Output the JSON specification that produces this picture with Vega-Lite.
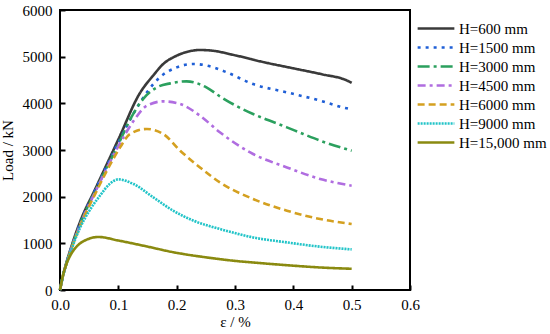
{
  "$schema": "https://vega.github.io/schema/vega-lite/v6.json",
  "autosize": {"type": "none"},
  "padding": {"left": 60, "top": 10, "right": 140, "bottom": 44},
  "width": 350,
  "height": 280,
  "config": {
    "font": "Liberation Serif",
    "view": {"stroke": "#000000", "strokeWidth": 2},
    "axis": {"labelFont": "Liberation Serif", "titleFont": "Liberation Serif", "labelFontSize": 15, "titleFontSize": 15, "titleFontWeight": "normal", "labelColor": "#000", "titleColor": "#000", "domain": false, "grid": false, "tickColor": "#000", "tickWidth": 2, "tickSize": 5, "offset": -5, "labelFlush": false}
  },
  "datasets": {
    "curves": [
      {"H": "H=600 mm", "e": 0, "load": 0}, {"H": "H=600 mm", "e": 0.005, "load": 300}, {"H": "H=600 mm", "e": 0.01, "load": 540}, {"H": "H=600 mm", "e": 0.02, "load": 950}, {"H": "H=600 mm", "e": 0.035, "load": 1480}, {"H": "H=600 mm", "e": 0.06, "load": 2152}, {"H": "H=600 mm", "e": 0.1, "load": 3226}, {"H": "H=600 mm", "e": 0.137, "load": 4220}, {"H": "H=600 mm", "e": 0.16, "load": 4600}, {"H": "H=600 mm", "e": 0.177, "load": 4843}, {"H": "H=600 mm", "e": 0.2, "load": 5021}, {"H": "H=600 mm", "e": 0.22, "load": 5110}, {"H": "H=600 mm", "e": 0.24, "load": 5143}, {"H": "H=600 mm", "e": 0.26, "load": 5130}, {"H": "H=600 mm", "e": 0.3, "load": 5030}, {"H": "H=600 mm", "e": 0.35, "load": 4880}, {"H": "H=600 mm", "e": 0.4, "load": 4750}, {"H": "H=600 mm", "e": 0.45, "load": 4620}, {"H": "H=600 mm", "e": 0.49, "load": 4500}, {"H": "H=600 mm", "e": 0.5, "load": 4440},
      {"H": "H=1500 mm", "e": 0, "load": 0}, {"H": "H=1500 mm", "e": 0.005, "load": 300}, {"H": "H=1500 mm", "e": 0.01, "load": 535}, {"H": "H=1500 mm", "e": 0.02, "load": 930}, {"H": "H=1500 mm", "e": 0.035, "load": 1450}, {"H": "H=1500 mm", "e": 0.06, "load": 2130}, {"H": "H=1500 mm", "e": 0.1, "load": 3160}, {"H": "H=1500 mm", "e": 0.126, "load": 3780}, {"H": "H=1500 mm", "e": 0.149, "load": 4235}, {"H": "H=1500 mm", "e": 0.171, "load": 4556}, {"H": "H=1500 mm", "e": 0.2, "load": 4770}, {"H": "H=1500 mm", "e": 0.229, "load": 4843}, {"H": "H=1500 mm", "e": 0.263, "load": 4770}, {"H": "H=1500 mm", "e": 0.286, "load": 4663}, {"H": "H=1500 mm", "e": 0.331, "load": 4414}, {"H": "H=1500 mm", "e": 0.389, "load": 4235}, {"H": "H=1500 mm", "e": 0.446, "load": 4057}, {"H": "H=1500 mm", "e": 0.489, "load": 3900}, {"H": "H=1500 mm", "e": 0.5, "load": 3870},
      {"H": "H=3000 mm", "e": 0, "load": 0}, {"H": "H=3000 mm", "e": 0.005, "load": 300}, {"H": "H=3000 mm", "e": 0.01, "load": 530}, {"H": "H=3000 mm", "e": 0.02, "load": 920}, {"H": "H=3000 mm", "e": 0.035, "load": 1430}, {"H": "H=3000 mm", "e": 0.06, "load": 2110}, {"H": "H=3000 mm", "e": 0.1, "load": 3120}, {"H": "H=3000 mm", "e": 0.12, "load": 3650}, {"H": "H=3000 mm", "e": 0.143, "load": 4100}, {"H": "H=3000 mm", "e": 0.166, "load": 4342}, {"H": "H=3000 mm", "e": 0.189, "load": 4428}, {"H": "H=3000 mm", "e": 0.217, "load": 4471}, {"H": "H=3000 mm", "e": 0.251, "load": 4342}, {"H": "H=3000 mm", "e": 0.274, "load": 4150}, {"H": "H=3000 mm", "e": 0.3, "load": 3960}, {"H": "H=3000 mm", "e": 0.331, "load": 3772}, {"H": "H=3000 mm", "e": 0.389, "load": 3485}, {"H": "H=3000 mm", "e": 0.417, "load": 3343}, {"H": "H=3000 mm", "e": 0.446, "load": 3200}, {"H": "H=3000 mm", "e": 0.5, "load": 2985},
      {"H": "H=4500 mm", "e": 0, "load": 0}, {"H": "H=4500 mm", "e": 0.005, "load": 300}, {"H": "H=4500 mm", "e": 0.01, "load": 525}, {"H": "H=4500 mm", "e": 0.02, "load": 910}, {"H": "H=4500 mm", "e": 0.035, "load": 1410}, {"H": "H=4500 mm", "e": 0.06, "load": 2090}, {"H": "H=4500 mm", "e": 0.1, "load": 3080}, {"H": "H=4500 mm", "e": 0.126, "load": 3620}, {"H": "H=4500 mm", "e": 0.149, "load": 3950}, {"H": "H=4500 mm", "e": 0.177, "load": 4042}, {"H": "H=4500 mm", "e": 0.206, "load": 3986}, {"H": "H=4500 mm", "e": 0.24, "load": 3735}, {"H": "H=4500 mm", "e": 0.274, "load": 3380}, {"H": "H=4500 mm", "e": 0.331, "load": 2914}, {"H": "H=4500 mm", "e": 0.389, "load": 2627}, {"H": "H=4500 mm", "e": 0.446, "load": 2379}, {"H": "H=4500 mm", "e": 0.5, "load": 2235},
      {"H": "H=6000 mm", "e": 0, "load": 0}, {"H": "H=6000 mm", "e": 0.005, "load": 300}, {"H": "H=6000 mm", "e": 0.01, "load": 520}, {"H": "H=6000 mm", "e": 0.02, "load": 900}, {"H": "H=6000 mm", "e": 0.035, "load": 1390}, {"H": "H=6000 mm", "e": 0.06, "load": 2050}, {"H": "H=6000 mm", "e": 0.09, "load": 2780}, {"H": "H=6000 mm", "e": 0.103, "load": 3056}, {"H": "H=6000 mm", "e": 0.12, "load": 3343}, {"H": "H=6000 mm", "e": 0.149, "load": 3450}, {"H": "H=6000 mm", "e": 0.177, "load": 3343}, {"H": "H=6000 mm", "e": 0.206, "load": 2985}, {"H": "H=6000 mm", "e": 0.24, "load": 2627}, {"H": "H=6000 mm", "e": 0.274, "load": 2306}, {"H": "H=6000 mm", "e": 0.331, "load": 1950}, {"H": "H=6000 mm", "e": 0.389, "load": 1700}, {"H": "H=6000 mm", "e": 0.446, "load": 1521}, {"H": "H=6000 mm", "e": 0.5, "load": 1414},
      {"H": "H=9000 mm", "e": 0, "load": 0}, {"H": "H=9000 mm", "e": 0.005, "load": 300}, {"H": "H=9000 mm", "e": 0.01, "load": 515}, {"H": "H=9000 mm", "e": 0.02, "load": 880}, {"H": "H=9000 mm", "e": 0.035, "load": 1350}, {"H": "H=9000 mm", "e": 0.05, "load": 1690}, {"H": "H=9000 mm", "e": 0.069, "load": 2030}, {"H": "H=9000 mm", "e": 0.085, "load": 2270}, {"H": "H=9000 mm", "e": 0.1, "load": 2370}, {"H": "H=9000 mm", "e": 0.126, "load": 2271}, {"H": "H=9000 mm", "e": 0.16, "load": 1985}, {"H": "H=9000 mm", "e": 0.194, "load": 1700}, {"H": "H=9000 mm", "e": 0.229, "load": 1485}, {"H": "H=9000 mm", "e": 0.274, "load": 1307}, {"H": "H=9000 mm", "e": 0.331, "load": 1127}, {"H": "H=9000 mm", "e": 0.389, "load": 1020}, {"H": "H=9000 mm", "e": 0.446, "load": 928}, {"H": "H=9000 mm", "e": 0.5, "load": 870},
      {"H": "H=15,000 mm", "e": 0, "load": 0}, {"H": "H=15,000 mm", "e": 0.005, "load": 310}, {"H": "H=15,000 mm", "e": 0.01, "load": 520}, {"H": "H=15,000 mm", "e": 0.02, "load": 790}, {"H": "H=15,000 mm", "e": 0.03, "load": 950}, {"H": "H=15,000 mm", "e": 0.045, "load": 1075}, {"H": "H=15,000 mm", "e": 0.066, "load": 1136}, {"H": "H=15,000 mm", "e": 0.1, "load": 1060}, {"H": "H=15,000 mm", "e": 0.15, "load": 930}, {"H": "H=15,000 mm", "e": 0.194, "load": 810}, {"H": "H=15,000 mm", "e": 0.25, "load": 700}, {"H": "H=15,000 mm", "e": 0.297, "load": 628}, {"H": "H=15,000 mm", "e": 0.35, "load": 570}, {"H": "H=15,000 mm", "e": 0.4, "load": 521}, {"H": "H=15,000 mm", "e": 0.45, "load": 480}, {"H": "H=15,000 mm", "e": 0.5, "load": 455}
    ]
  },
  "data": {"name": "curves"},
  "mark": {"type": "line", "interpolate": "monotone", "strokeWidth": 2.6},
  "encoding": {
    "x": {"field": "e", "type": "quantitative", "scale": {"domain": [0, 0.6], "nice": false}, "axis": {"title": "ε / %", "values": [0, 0.1, 0.2, 0.3, 0.4, 0.5, 0.6], "format": ".1f", "labelPadding": 7, "titlePadding": 2}},
    "y": {"field": "load", "type": "quantitative", "scale": {"domain": [0, 6000], "nice": false}, "axis": {"title": "Load / kN", "values": [0, 1000, 2000, 3000, 4000, 5000, 6000], "format": "d", "labelPadding": 8, "titlePadding": 7}},
    "color": {"field": "H", "type": "nominal", "sort": ["H=600 mm", "H=1500 mm", "H=3000 mm", "H=4500 mm", "H=6000 mm", "H=9000 mm", "H=15,000 mm"],
      "scale": {"domain": ["H=600 mm", "H=1500 mm", "H=3000 mm", "H=4500 mm", "H=6000 mm", "H=9000 mm", "H=15,000 mm"], "range": ["#3a3a3a", "#1f5fd6", "#2ba05e", "#b06de0", "#d4a020", "#22c4c8", "#8a8a10"]},
      "legend": {"title": null, "orient": "none", "legendX": 356, "legendY": 9, "padding": 0, "symbolType": "stroke", "symbolSize": 1350, "symbolStrokeWidth": 2.6, "clipHeight": 19, "rowPadding": 0, "labelFont": "Liberation Serif", "labelFontSize": 15, "labelColor": "#000", "labelOffset": 3}},
    "strokeDash": {"field": "H", "type": "nominal",
      "scale": {"domain": ["H=600 mm", "H=1500 mm", "H=3000 mm", "H=4500 mm", "H=6000 mm", "H=9000 mm", "H=15,000 mm"], "range": [[1, 0], [3, 5], [12, 4, 3, 4], [8, 4, 3, 4], [7, 4], [2, 1], [1, 0]]},
      "legend": null}
  }
}
